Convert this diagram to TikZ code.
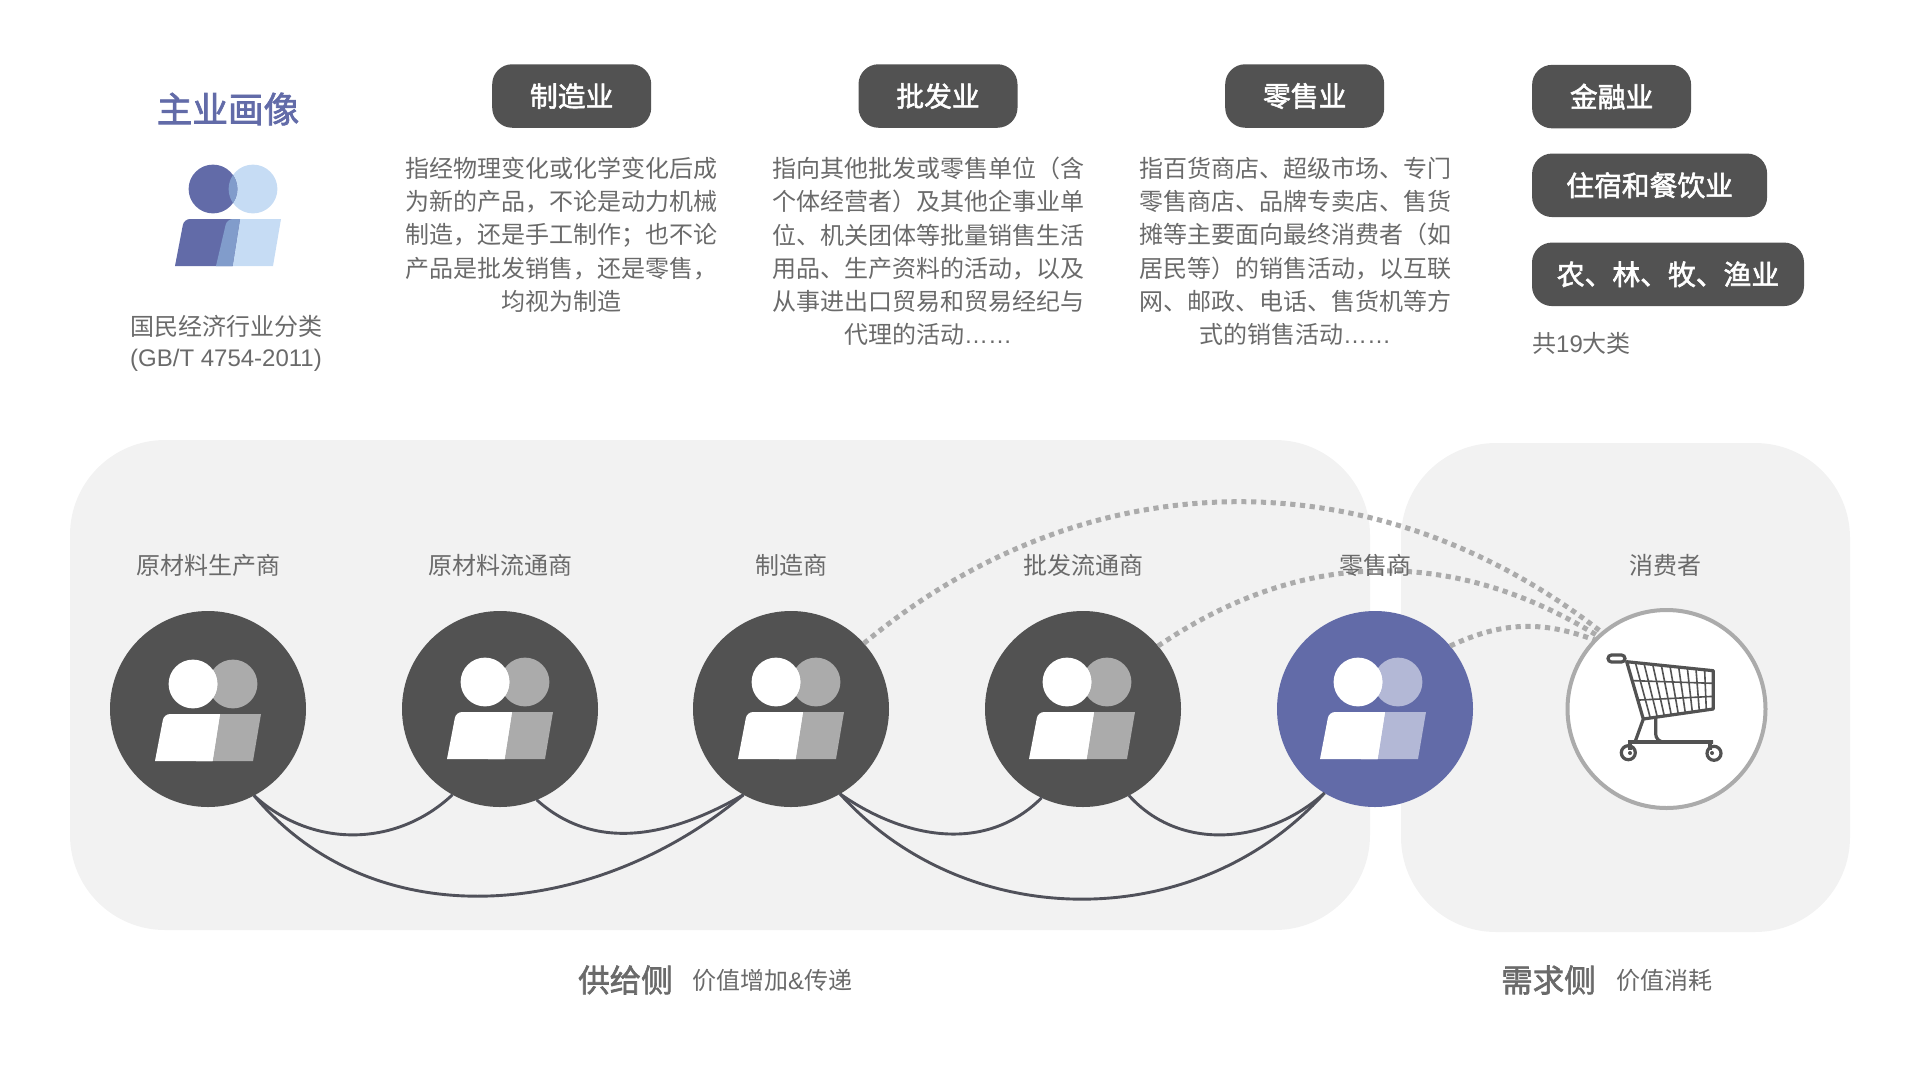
\documentclass[tikz,border=0pt]{standalone}
\usepackage{fontspec}
\setmainfont{Noto Sans CJK SC}
\newfontfamily\latinfont{Liberation Sans}
\newfontfamily\headfont[FakeBold=2]{Noto Sans CJK SC}
\usetikzlibrary{calc}
\definecolor{mainblue}  {RGB}{98,107,168}
\definecolor{paleblue}  {RGB}{198,220,244}
\definecolor{midblue}   {RGB}{129,156,203}
\definecolor{softblue}  {RGB}{179,184,214}
\definecolor{darkgray}  {RGB}{82,82,82}
\definecolor{midgray}   {RGB}{171,171,171}
\definecolor{textgray}  {RGB}{106,106,106}
\definecolor{blobgray}  {RGB}{242,242,242}
\definecolor{linkgray}  {RGB}{80,81,90}

\newcommand{\peopleicon}[5]{%
  \begin{scope}[shift={(#1,#2)}]
    \fill[#4] (25,-25) circle[radius=24.4pt];
    \fill[#4] (-12,52) [rounded corners=6pt] -- (-1,5) [sharp corners] -- (53,5) -- (45,52) -- cycle;
    \fill[#3] (-15,-25) circle[radius=24.4pt];
    \fill[#3] (-53,52) [rounded corners=6pt] -- (-44,5) [sharp corners] -- (12,5) -- (4.6,52) -- cycle;
    \begin{scope}
      \clip (-15,-25) circle[radius=24.4pt];
      \fill[#5] (25,-25) circle[radius=24.4pt];
    \end{scope}
    \fill[#5] (-12,52) [rounded corners=6pt] -- (-1,5) [sharp corners] -- (12,5) -- (4.6,52) -- cycle;
  \end{scope}}

\begin{document}
\begin{tikzpicture}[
  x=1pt,y=-1pt,
  every node/.style={font=\fontsize{24}{33.2}\selectfont,text=textgray,inner sep=0pt},
  tag/.style={fill=darkgray,rounded corners=20pt,minimum height=63.5pt,
              font=\fontsize{27.8}{33}\headfont,text=white},
  desc/.style={align=center,anchor=north},
  blob/.style={fill=blobgray,rounded corners=95pt},
  party/.style={circle,fill=darkgray,minimum size=196pt,outer sep=0pt},
  link/.style={draw=linkgray,line width=2.9pt},
  flow/.style={draw=midgray,line width=5pt,dash pattern=on 5.2pt off 4.6pt},
  cart/.style={draw=darkgray,line width=3.2pt},
  wire/.style={draw=darkgray,line width=1.6pt},
]
\useasboundingbox (0,0) rectangle (1920,1080);

%% ── Header: portrait ─────────────────────────────────────────────────────
\node[font=\fontsize{35.6}{40}\headfont,text=mainblue] (title) at (228,109) {主业画像};
\peopleicon{228}{214}{mainblue}{paleblue}{midblue}
\node[align=center,font=\fontsize{24}{31}\selectfont] (source) at (226,343.5)
  {国民经济行业分类\\{\latinfont (GB/T 4754-2011)}};

%% ── Header: industries ───────────────────────────────────────────────────
\node[tag,minimum width=159pt] (maker) at (571.7,96) {制造业};
\node[tag,minimum width=159pt] (whole) at (938,96) {批发业};
\node[tag,minimum width=159pt] (retail) at (1304.7,96) {零售业};
\node[tag,minimum width=159pt] (fin) at (1611.6,96.6) {金融业};
\node[tag,minimum width=235pt] (hotel) at (1649.6,185.3) {住宿和餐饮业};
\node[tag,minimum width=272pt] (farm) at (1668,274.3) {农、林、牧、渔业};

\node[desc] (makertxt) at (561,157)
  {指经物理变化或化学变化后成\\为新的产品，不论是动力机械\\制造，还是手工制作；也不论\\产品是批发销售，还是零售，\\均视为制造};
\node[desc] (wholetxt) at (928,157)
  {指向其他批发或零售单位（含\\个体经营者）及其他企事业单\\位、机关团体等批量销售生活\\用品、生产资料的活动，以及\\从事进出口贸易和贸易经纪与\\代理的活动{\latinfont ……}};
\node[desc] (retailtxt) at (1295,157)
  {指百货商店、超级市场、专门\\零售商店、品牌专卖店、售货\\摊等主要面向最终消费者（如\\居民等）的销售活动，以互联\\网、邮政、电话、售货机等方\\式的销售活动{\latinfont ……}};
\node[anchor=west] (total) at (1532,343) {共{\latinfont 19}大类};

%% ── Chain backgrounds ────────────────────────────────────────────────────
\node[blob,minimum width=1300pt,minimum height=490pt] (supply) at (720,685) {};
\node[blob,minimum width=449pt,minimum height=489pt] (demand) at (1625.5,687.5) {};

%% ── Chain parties ────────────────────────────────────────────────────────
\node[party] (p1) at (208,709) {};
\node[party] (p2) at (500,709) {};
\node[party] (p3) at (791,709) {};
\node[party] (p4) at (1083,709) {};
\node[party,fill=mainblue] (p5) at (1375,709) {};
\node[party,fill=white,draw=midgray,line width=4pt,minimum size=198pt] (buyer) at (1666.5,709) {};

%% ── Trade links ──────────────────────────────────────────────────────────
\draw[link] (p1.-62) to[bend right=43] (p2.-119);
\draw[link] (p1.-62) to[out=-50,in=-140] (p3.-119);
\draw[link] (p2.-68) to[out=-42,in=-150] (p3.-119);
\draw[link] (p3.-60) to[out=-35,in=-135] (p4.-115);
\draw[link] (p3.-60) to[bend right=48] (p5.-121);
\draw[link] (p4.-62) to[out=-48,in=-138] (p5.-121);

%% Links to the buyer
\draw[flow] (p3.42) to[bend left=39] (buyer.130);
\draw[flow] (p4.40) to[bend left=33] (buyer.133);
\draw[flow] (p5.40) to[bend left=23] (buyer.136);

%% ── Party icons ──────────────────────────────────────────────────────────
\peopleicon{208}{709}{white}{midgray}{white}
\peopleicon{500}{707}{white}{midgray}{white}
\peopleicon{791}{707}{white}{midgray}{white}
\peopleicon{1082}{707}{white}{midgray}{white}
\peopleicon{1373}{707}{white}{softblue}{white}

%% Trolley
\coordinate (tl) at (1626.7,661.7);
\coordinate (tr) at (1713.3,670.7);
\coordinate (br) at (1713.3,709);
\coordinate (bl) at (1643.3,719);
\foreach \t in {0.1,0.2,0.3,0.4,0.5,0.6,0.7,0.8,0.9}
  \draw[wire] ($(tl)!\t!(tr)$) -- ($(bl)!\t!(br)$);
\foreach \t in {0.33,0.67}
  \draw[wire] ($(tl)!\t!(bl)$) -- ($(tr)!\t!(br)$);
\draw[cart,line join=round] (tl) -- (tr) -- (br) -- (bl) -- cycle;
\draw[cart,rounded corners=3.5pt] (1608,655) rectangle (1625,662);
\draw[cart] (bl) -- (1635,742);
\draw[cart,rounded corners=8pt] (1655.7,717) -- (1655.7,742) -- (1713,742);
\draw[cart] (1628,742) -- (1713,742);
\draw[cart] (1630,742) -- (1630,750);
\draw[cart] (1710,742) -- (1710,750);
\draw[cart] (1628.3,752.7) circle[radius=7pt];
\draw[cart] (1714,753.3) circle[radius=7pt];
\fill[darkgray] (1630,753) circle[radius=2pt];
\fill[darkgray] (1712,753) circle[radius=2pt];

%% ── Party labels ─────────────────────────────────────────────────────────
\node (l1) at (208,565.7) {原材料生产商};
\node (l2) at (500,565.7) {原材料流通商};
\node (l3) at (791,565.7) {制造商};
\node (l4) at (1083,565.7) {批发流通商};
\node (l5) at (1375,565.7) {零售商};
\node (l6) at (1665,565.7) {消费者};

%% ── Side captions ────────────────────────────────────────────────────────
\node[anchor=west,font=\fontsize{31.5}{36}\headfont] (sup) at (578,980) {供给侧};
\node[anchor=west] (suptxt) at (692,980) {价值增加{\latinfont \&}传递};
\node[anchor=west,font=\fontsize{31.5}{36}\headfont] (dem) at (1501,980) {需求侧};
\node[anchor=west] (demtxt) at (1616,980) {价值消耗};
\end{tikzpicture}
\end{document}
